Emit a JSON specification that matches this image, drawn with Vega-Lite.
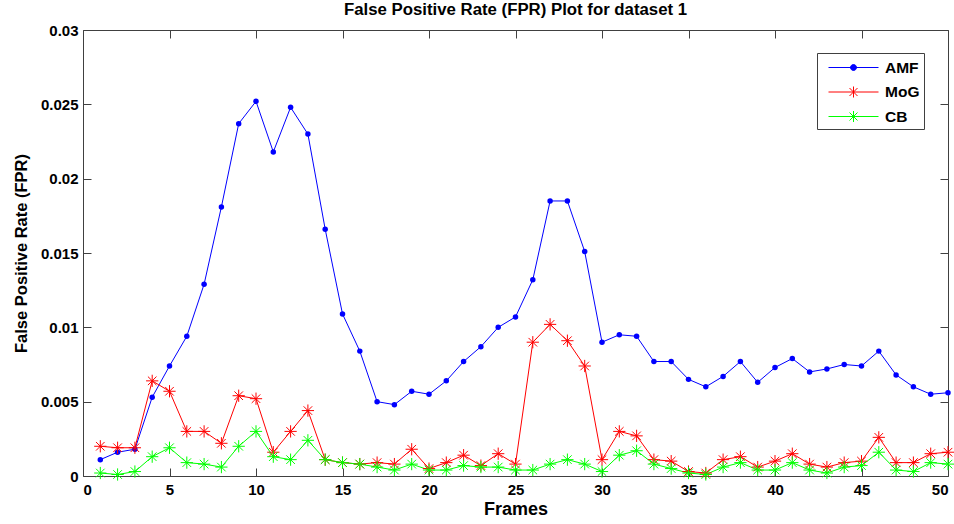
{
  "$schema": "https://vega.github.io/schema/vega-lite/v6.json",
  "width": 865,
  "height": 446,
  "autosize": {"type": "none"},
  "padding": {"left": 83, "top": 30, "right": 6, "bottom": 48},
  "background": "white",
  "config": {
    "font": "Liberation Sans",
    "view": {"stroke": null},
    "axis": {
      "domainColor": "#404040",
      "tickColor": "#404040",
      "labelColor": "black",
      "labelFont": "Liberation Sans",
      "labelFontWeight": "bold",
      "labelFontSize": 15,
      "titleFont": "Liberation Sans",
      "titleFontWeight": "bold",
      "titleFontSize": 16.5,
      "titleColor": "black",
      "grid": false
    }
  },
  "title": {
    "text": "False Positive Rate (FPR) Plot for dataset 1",
    "font": "Liberation Sans",
    "fontSize": 16.8,
    "fontWeight": "bold",
    "color": "black",
    "anchor": "middle",
    "offset": 4
  },
  "data": {
    "values": [
      {"frame": 1, "method": "AMF", "fpr": 0.0011}, {"frame": 2, "method": "AMF", "fpr": 0.0016}, {"frame": 3, "method": "AMF", "fpr": 0.0018}, {"frame": 4, "method": "AMF", "fpr": 0.0053}, {"frame": 5, "method": "AMF", "fpr": 0.0074},
      {"frame": 6, "method": "AMF", "fpr": 0.0094}, {"frame": 7, "method": "AMF", "fpr": 0.0129}, {"frame": 8, "method": "AMF", "fpr": 0.0181}, {"frame": 9, "method": "AMF", "fpr": 0.0237}, {"frame": 10, "method": "AMF", "fpr": 0.0252},
      {"frame": 11, "method": "AMF", "fpr": 0.0218}, {"frame": 12, "method": "AMF", "fpr": 0.0248}, {"frame": 13, "method": "AMF", "fpr": 0.0230}, {"frame": 14, "method": "AMF", "fpr": 0.0166}, {"frame": 15, "method": "AMF", "fpr": 0.0109},
      {"frame": 16, "method": "AMF", "fpr": 0.0084}, {"frame": 17, "method": "AMF", "fpr": 0.0050}, {"frame": 18, "method": "AMF", "fpr": 0.0048}, {"frame": 19, "method": "AMF", "fpr": 0.0057}, {"frame": 20, "method": "AMF", "fpr": 0.0055},
      {"frame": 21, "method": "AMF", "fpr": 0.0064}, {"frame": 22, "method": "AMF", "fpr": 0.0077}, {"frame": 23, "method": "AMF", "fpr": 0.0087}, {"frame": 24, "method": "AMF", "fpr": 0.0100}, {"frame": 25, "method": "AMF", "fpr": 0.0107},
      {"frame": 26, "method": "AMF", "fpr": 0.0132}, {"frame": 27, "method": "AMF", "fpr": 0.0185}, {"frame": 28, "method": "AMF", "fpr": 0.0185}, {"frame": 29, "method": "AMF", "fpr": 0.0151}, {"frame": 30, "method": "AMF", "fpr": 0.0090},
      {"frame": 31, "method": "AMF", "fpr": 0.0095}, {"frame": 32, "method": "AMF", "fpr": 0.0094}, {"frame": 33, "method": "AMF", "fpr": 0.0077}, {"frame": 34, "method": "AMF", "fpr": 0.0077}, {"frame": 35, "method": "AMF", "fpr": 0.0065},
      {"frame": 36, "method": "AMF", "fpr": 0.0060}, {"frame": 37, "method": "AMF", "fpr": 0.0067}, {"frame": 38, "method": "AMF", "fpr": 0.0077}, {"frame": 39, "method": "AMF", "fpr": 0.0063}, {"frame": 40, "method": "AMF", "fpr": 0.0073},
      {"frame": 41, "method": "AMF", "fpr": 0.0079}, {"frame": 42, "method": "AMF", "fpr": 0.0070}, {"frame": 43, "method": "AMF", "fpr": 0.0072}, {"frame": 44, "method": "AMF", "fpr": 0.0075}, {"frame": 45, "method": "AMF", "fpr": 0.0074},
      {"frame": 46, "method": "AMF", "fpr": 0.0084}, {"frame": 47, "method": "AMF", "fpr": 0.0068}, {"frame": 48, "method": "AMF", "fpr": 0.0060}, {"frame": 49, "method": "AMF", "fpr": 0.0055}, {"frame": 50, "method": "AMF", "fpr": 0.0056},
      {"frame": 1, "method": "MoG", "fpr": 0.0020}, {"frame": 2, "method": "MoG", "fpr": 0.0019}, {"frame": 3, "method": "MoG", "fpr": 0.0019}, {"frame": 4, "method": "MoG", "fpr": 0.0064}, {"frame": 5, "method": "MoG", "fpr": 0.0057},
      {"frame": 6, "method": "MoG", "fpr": 0.0030}, {"frame": 7, "method": "MoG", "fpr": 0.0030}, {"frame": 8, "method": "MoG", "fpr": 0.0022}, {"frame": 9, "method": "MoG", "fpr": 0.0054}, {"frame": 10, "method": "MoG", "fpr": 0.0052},
      {"frame": 11, "method": "MoG", "fpr": 0.0016}, {"frame": 12, "method": "MoG", "fpr": 0.0030}, {"frame": 13, "method": "MoG", "fpr": 0.0044}, {"frame": 14, "method": "MoG", "fpr": 0.0011}, {"frame": 15, "method": "MoG", "fpr": 0.0009},
      {"frame": 16, "method": "MoG", "fpr": 0.0008}, {"frame": 17, "method": "MoG", "fpr": 0.0009}, {"frame": 18, "method": "MoG", "fpr": 0.0008}, {"frame": 19, "method": "MoG", "fpr": 0.0018}, {"frame": 20, "method": "MoG", "fpr": 0.0005},
      {"frame": 21, "method": "MoG", "fpr": 0.0009}, {"frame": 22, "method": "MoG", "fpr": 0.0014}, {"frame": 23, "method": "MoG", "fpr": 0.0007}, {"frame": 24, "method": "MoG", "fpr": 0.0015}, {"frame": 25, "method": "MoG", "fpr": 0.0008},
      {"frame": 26, "method": "MoG", "fpr": 0.0090}, {"frame": 27, "method": "MoG", "fpr": 0.0102}, {"frame": 28, "method": "MoG", "fpr": 0.0091}, {"frame": 29, "method": "MoG", "fpr": 0.0074}, {"frame": 30, "method": "MoG", "fpr": 0.0011},
      {"frame": 31, "method": "MoG", "fpr": 0.0030}, {"frame": 32, "method": "MoG", "fpr": 0.0027}, {"frame": 33, "method": "MoG", "fpr": 0.0011}, {"frame": 34, "method": "MoG", "fpr": 0.0010}, {"frame": 35, "method": "MoG", "fpr": 0.0003},
      {"frame": 36, "method": "MoG", "fpr": 0.0002}, {"frame": 37, "method": "MoG", "fpr": 0.0011}, {"frame": 38, "method": "MoG", "fpr": 0.0013}, {"frame": 39, "method": "MoG", "fpr": 0.0006}, {"frame": 40, "method": "MoG", "fpr": 0.0010},
      {"frame": 41, "method": "MoG", "fpr": 0.0015}, {"frame": 42, "method": "MoG", "fpr": 0.0008}, {"frame": 43, "method": "MoG", "fpr": 0.0006}, {"frame": 44, "method": "MoG", "fpr": 0.0009}, {"frame": 45, "method": "MoG", "fpr": 0.0010},
      {"frame": 46, "method": "MoG", "fpr": 0.0026}, {"frame": 47, "method": "MoG", "fpr": 0.0009}, {"frame": 48, "method": "MoG", "fpr": 0.0009}, {"frame": 49, "method": "MoG", "fpr": 0.0015}, {"frame": 50, "method": "MoG", "fpr": 0.0016},
      {"frame": 1, "method": "CB", "fpr": 0.0002}, {"frame": 2, "method": "CB", "fpr": 0.0001}, {"frame": 3, "method": "CB", "fpr": 0.0003}, {"frame": 4, "method": "CB", "fpr": 0.0013}, {"frame": 5, "method": "CB", "fpr": 0.0019},
      {"frame": 6, "method": "CB", "fpr": 0.0009}, {"frame": 7, "method": "CB", "fpr": 0.0008}, {"frame": 8, "method": "CB", "fpr": 0.0006}, {"frame": 9, "method": "CB", "fpr": 0.0020}, {"frame": 10, "method": "CB", "fpr": 0.0030},
      {"frame": 11, "method": "CB", "fpr": 0.0013}, {"frame": 12, "method": "CB", "fpr": 0.0011}, {"frame": 13, "method": "CB", "fpr": 0.0024}, {"frame": 14, "method": "CB", "fpr": 0.0011}, {"frame": 15, "method": "CB", "fpr": 0.0009},
      {"frame": 16, "method": "CB", "fpr": 0.0008}, {"frame": 17, "method": "CB", "fpr": 0.0006}, {"frame": 18, "method": "CB", "fpr": 0.0004}, {"frame": 19, "method": "CB", "fpr": 0.0008}, {"frame": 20, "method": "CB", "fpr": 0.0004},
      {"frame": 21, "method": "CB", "fpr": 0.0004}, {"frame": 22, "method": "CB", "fpr": 0.0007}, {"frame": 23, "method": "CB", "fpr": 0.0006}, {"frame": 24, "method": "CB", "fpr": 0.0006}, {"frame": 25, "method": "CB", "fpr": 0.0004},
      {"frame": 26, "method": "CB", "fpr": 0.0004}, {"frame": 27, "method": "CB", "fpr": 0.0008}, {"frame": 28, "method": "CB", "fpr": 0.0011}, {"frame": 29, "method": "CB", "fpr": 0.0008}, {"frame": 30, "method": "CB", "fpr": 0.0003},
      {"frame": 31, "method": "CB", "fpr": 0.0014}, {"frame": 32, "method": "CB", "fpr": 0.0017}, {"frame": 33, "method": "CB", "fpr": 0.0008}, {"frame": 34, "method": "CB", "fpr": 0.0005}, {"frame": 35, "method": "CB", "fpr": 0.0002},
      {"frame": 36, "method": "CB", "fpr": 0.0001}, {"frame": 37, "method": "CB", "fpr": 0.0006}, {"frame": 38, "method": "CB", "fpr": 0.0009}, {"frame": 39, "method": "CB", "fpr": 0.0004}, {"frame": 40, "method": "CB", "fpr": 0.0004},
      {"frame": 41, "method": "CB", "fpr": 0.0009}, {"frame": 42, "method": "CB", "fpr": 0.0004}, {"frame": 43, "method": "CB", "fpr": 0.0002}, {"frame": 44, "method": "CB", "fpr": 0.0006}, {"frame": 45, "method": "CB", "fpr": 0.0007},
      {"frame": 46, "method": "CB", "fpr": 0.0016}, {"frame": 47, "method": "CB", "fpr": 0.0004}, {"frame": 48, "method": "CB", "fpr": 0.0003}, {"frame": 49, "method": "CB", "fpr": 0.0009}, {"frame": 50, "method": "CB", "fpr": 0.0008}
    ]
  },
  "resolve": {"axis": {"x": "independent", "y": "independent"}},
  "layer": [
    {
      "mark": {"type": "line", "strokeWidth": 1, "clip": true},
      "encoding": {
        "x": {
          "field": "frame", "type": "quantitative",
          "scale": {"domain": [0, 50], "nice": false, "zero": false},
          "axis": {"orient": "bottom", "values": [0, 5, 10, 15, 20, 25, 30, 35, 40, 45, 50], "tickSize": -8, "labelPadding": 14, "title": "Frames", "titleFontSize": 18, "titlePadding": 3}
        },
        "y": {
          "field": "fpr", "type": "quantitative",
          "scale": {"domain": [0, 0.03], "nice": false},
          "axis": {"orient": "left", "values": [0, 0.005, 0.01, 0.015, 0.02, 0.025, 0.03], "format": "~g", "tickSize": -8, "labelPadding": 13, "title": "False Positive Rate (FPR)", "titlePadding": 11}
        },
        "color": {
          "field": "method", "type": "nominal",
          "scale": {"domain": ["AMF", "MoG", "CB"], "range": ["#0000ff", "#ff0000", "#00ff00"]},
          "legend": {
            "title": null,
            "orient": "none",
            "legendX": 734,
            "legendY": 23,
            "padding": 4,
            "strokeColor": "#404040",
            "fillColor": "white",
            "labelFont": "Liberation Sans",
            "labelFontSize": 15.5,
            "labelFontWeight": "bold",
            "labelColor": "black",
            "labelOffset": 21,
            "symbolOffset": 22,
            "rowPadding": 5.5,
            "symbolSize": 400,
            "symbolStrokeWidth": 1,
            "encode": {
              "symbols": {
                "update": {
                  "shape": {"signal": "datum.value === 'AMF' ? 'M-2.5,0H2.5M-0.3,0A0.3,0.3 0 1,0 0.3,0A0.3,0.3 0 1,0 -0.3,0Z' : 'M-2.5,0H2.5M0,-0.55V0.55M-0.4,-0.4L0.4,0.4M-0.4,0.4L0.4,-0.4'"},
                  "fill": {"signal": "datum.value === 'AMF' ? '#0000ff' : 'transparent'"},
                  "fillOpacity": {"value": 1},
                  "opacity": {"value": 1}
                }
              }
            }
          }
        }
      }
    },
    {
      "transform": [{"filter": "datum.method === 'AMF'"}],
      "mark": {"type": "point", "filled": true, "size": 30, "opacity": 1},
      "encoding": {
        "x": {"field": "frame", "type": "quantitative", "axis": {"orient": "top", "values": [0, 5, 10, 15, 20, 25, 30, 35, 40, 45, 50], "tickSize": -8, "labels": false, "title": null}},
        "y": {"field": "fpr", "type": "quantitative", "axis": {"orient": "right", "values": [0, 0.005, 0.01, 0.015, 0.02, 0.025, 0.03], "tickSize": -8, "labels": false, "title": null}},
        "color": {"field": "method", "type": "nominal", "legend": null}
      }
    },
    {
      "transform": [{"filter": "datum.method !== 'AMF'"}],
      "mark": {"type": "point", "filled": false, "size": 150, "strokeWidth": 1, "opacity": 1, "shape": "M-1,0H1M0,-1V1M-0.7,-0.7L0.7,0.7M-0.7,0.7L0.7,-0.7"},
      "encoding": {
        "x": {"field": "frame", "type": "quantitative", "axis": null},
        "y": {"field": "fpr", "type": "quantitative", "axis": null},
        "color": {"field": "method", "type": "nominal", "legend": null}
      }
    }
  ]
}
